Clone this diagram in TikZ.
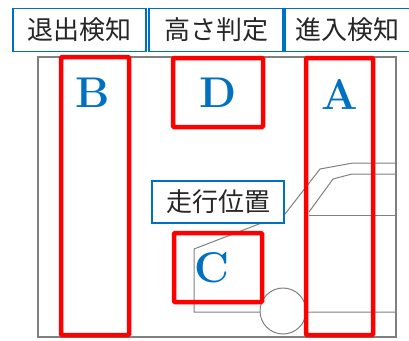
\documentclass[tikz,border=0pt]{standalone}
\usepackage{fontspec}
\newfontfamily\jp{Noto Sans CJK JP}
\definecolor{lblblue}{RGB}{0,112,192}
\definecolor{sensred}{RGB}{255,0,0}
\definecolor{outline}{RGB}{128,128,128}
\tikzset{
  label/.style={draw=lblblue, line width=1.3pt, fill=white, inner sep=0pt,
    font=\jp\fontsize{26}{26}\selectfont, text=black!85},
  zone/.style={draw=sensred, line width=4.5pt, rounded corners=1pt},
  zoneid/.style={text=lblblue, font=\bfseries\fontsize{43}{43}\selectfont, inner sep=0pt},
  body/.style={draw=outline, line width=1pt},
}
\begin{document}
\begin{tikzpicture}[x=1pt,y=-1pt]
\useasboundingbox (0,0) rectangle (409,340);
\clip (0,0) rectangle (409,340);

% sensing area frame
\draw[body, line width=1.3pt] (38,57) rectangle (396,337);

% vehicle silhouette
\draw[body] (396,163) -- (353,163) -- (320,169) -- (285,214) -- (194,249) -- (194,312) -- (396,312);
\draw[body] (396,174) -- (352,174) -- (333,179) -- (309,212);
\draw[body] (309,215) -- (396,215);
\draw[body, fill=white] (283,311) circle [radius=23];

% detection zones
\draw[zone] (61,57) rectangle (129,335);
\draw[zone] (173,58) rectangle (263,127);
\draw[zone] (306,58) rectangle (373,335);
\draw[zone] (174,233) rectangle (262,302);

\node[zoneid] (zb) at (93,93) {B};
\node[zoneid] (zd) at (218,93) {D};
\node[zoneid] (za) at (340,94) {A};
\node[zoneid] (zc) at (212,268) {C};

% captions
\node[label, minimum width=133pt, minimum height=43pt] (exit) at (79.5,30) {退出検知};
\node[label, minimum width=134pt, minimum height=43pt] (height) at (216,30) {高さ判定};
\node[label, minimum width=128pt, minimum height=43pt, text width=128pt, align=left] (entry) at (349,30) {\hspace{10pt}進入検知};
\node[label, minimum width=132pt, minimum height=42pt] (run) at (218,202) {走行位置};
\end{tikzpicture}
\end{document}
